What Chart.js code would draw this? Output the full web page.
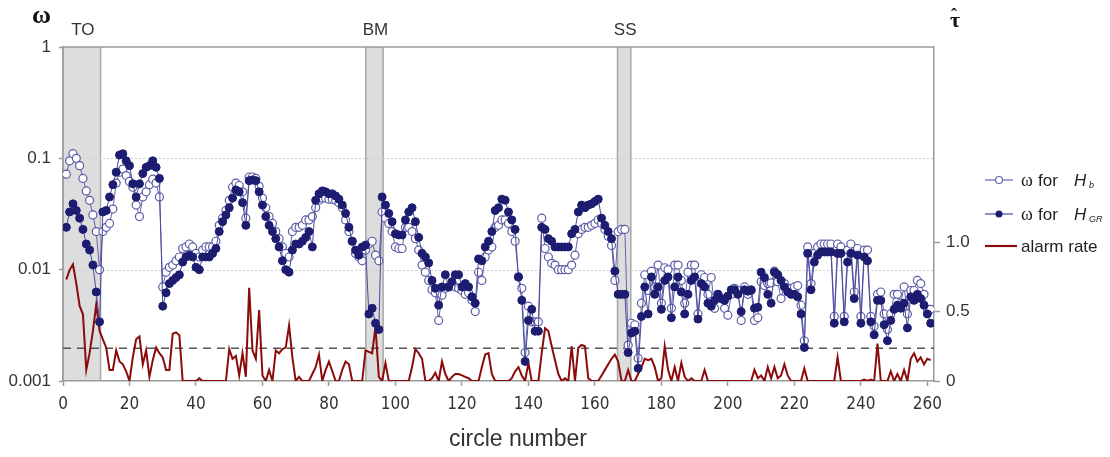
<!DOCTYPE html>
<html><head><meta charset="utf-8">
<script src="https://cdn.jsdelivr.net/npm/chart.js@4.4.1/dist/chart.umd.min.js"></script>
<style>
html,body{margin:0;padding:0;background:#fff;}
canvas{display:block;}
</style></head><body>
<canvas id="c" width="1110" height="457"></canvas>
<script>
// ω for H_b (open circles)
const omegaHb = [
0.072,0.095,0.11,0.10,0.086,0.066,0.051,0.042,0.031,0.022,
0.010,0.022,0.024,0.026,0.035,0.06,0.075,0.08,0.07,0.062,
0.055,0.038,0.03,0.045,0.05,0.058,0.065,0.06,0.045,0.007,
0.0095,0.0105,0.011,0.012,0.013,0.0155,0.016,0.017,0.016,0.014,
0.013,0.015,0.016,0.016,0.016,0.018,0.025,0.029,0.034,0.042,
0.055,0.06,0.057,0.05,0.029,0.068,0.068,0.066,0.056,0.044,
0.036,0.03,0.026,0.022,0.019,0.016,0.014,0.013,0.022,0.024,
0.024,0.025,0.028,0.028,0.03,0.036,0.042,0.044,0.044,0.043,
0.043,0.042,0.04,0.036,0.028,0.022,0.018,0.014,0.013,0.012,
0.015,0.017,0.018,0.0135,0.012,0.033,0.029,0.026,0.022,0.016,
0.0155,0.0155,0.024,0.024,0.022,0.019,0.015,0.011,0.0095,0.008,
0.0066,0.0062,0.0035,0.0059,0.0068,0.007,0.0072,0.007,0.0068,0.0065,
0.006,0.0062,0.0053,0.0042,0.0095,0.008,0.013,0.015,0.016,0.024,
0.025,0.028,0.028,0.026,0.022,0.018,0.0086,0.0068,0.0018,0.0047,
0.0034,0.0034,0.0034,0.029,0.0155,0.013,0.0114,0.011,0.01,0.01,
0.01,0.01,0.011,0.0135,0.021,0.023,0.024,0.024,0.025,0.026,
0.028,0.026,0.023,0.02,0.0165,0.008,0.022,0.023,0.023,0.0021,
0.0033,0.0032,0.0016,0.005,0.009,0.0065,0.0097,0.007,0.011,0.005,
0.0104,0.01,0.0045,0.011,0.011,0.008,0.005,0.0095,0.011,0.011,
0.004,0.009,0.0085,0.006,0.0085,0.0045,0.006,0.0055,0.0045,0.0039,
0.006,0.0068,0.0065,0.0035,0.007,0.006,0.0065,0.0035,0.0037,0.0078,
0.0072,0.0075,0.0076,0.0097,0.0078,0.0055,0.0075,0.0068,0.0068,0.007,
0.0072,0.0048,0.0023,0.016,0.0075,0.014,0.016,0.017,0.017,0.017,
0.017,0.0038,0.017,0.016,0.0038,0.015,0.017,0.0063,0.0155,0.0038,
0.015,0.015,0.0038,0.0031,0.006,0.0063,0.004,0.0029,0.004,0.006,
0.006,0.005,0.007,0.004,0.0065,0.0065,0.008,0.0075,0.006,0.0044,0.0044];

// ω for H_GR (filled circles)
const omegaHGR = [
0.024,0.033,0.039,0.034,0.029,0.023,0.017,0.015,0.011,0.0063,
0.0034,0.033,0.034,0.045,0.058,0.075,0.107,0.11,0.095,0.086,
0.059,0.045,0.059,0.073,0.083,0.086,0.095,0.083,0.066,0.0047,
0.0062,0.0075,0.008,0.0085,0.009,0.0117,0.013,0.0135,0.013,0.0105,
0.010,0.013,0.013,0.013,0.014,0.0155,0.022,0.027,0.031,0.036,
0.044,0.052,0.05,0.04,0.025,0.063,0.064,0.063,0.05,0.038,
0.03,0.025,0.022,0.019,0.016,0.012,0.01,0.0095,0.015,0.017,
0.017,0.018,0.0195,0.022,0.016,0.042,0.048,0.051,0.05,0.048,
0.048,0.046,0.043,0.038,0.032,0.024,0.018,0.015,0.0135,0.016,
0.0166,0.004,0.0045,0.0033,0.0029,0.045,0.038,0.032,0.027,0.021,
0.0205,0.0205,0.028,0.033,0.036,0.027,0.0195,0.014,0.013,0.0115,
0.008,0.0068,0.0048,0.007,0.009,0.007,0.0078,0.009,0.009,0.007,
0.0075,0.007,0.0057,0.005,0.0125,0.012,0.016,0.018,0.022,0.034,
0.036,0.043,0.042,0.033,0.028,0.023,0.0086,0.0053,0.0015,0.0035,
0.0044,0.0028,0.0028,0.024,0.023,0.019,0.018,0.016,0.016,0.016,
0.016,0.016,0.021,0.023,0.033,0.038,0.036,0.038,0.039,0.041,
0.043,0.029,0.025,0.022,0.019,0.0097,0.006,0.006,0.006,0.0018,
0.0027,0.0028,0.0013,0.0038,0.007,0.004,0.0086,0.006,0.007,0.0044,
0.008,0.0086,0.0037,0.007,0.0086,0.0063,0.004,0.006,0.008,0.0086,
0.0036,0.0075,0.007,0.005,0.0047,0.0053,0.006,0.0055,0.0053,0.0058,
0.0066,0.0066,0.006,0.0042,0.0066,0.0064,0.0066,0.0045,0.0046,0.0095,
0.0085,0.006,0.005,0.0095,0.009,0.008,0.007,0.0063,0.006,0.006,
0.0057,0.004,0.002,0.014,0.0066,0.0117,0.0135,0.0144,0.0144,0.0144,
0.0144,0.0033,0.014,0.014,0.0034,0.0117,0.014,0.0055,0.0135,0.0033,
0.013,0.012,0.0034,0.0026,0.0053,0.0053,0.0032,0.0023,0.0035,0.0044,
0.0048,0.0045,0.005,0.003,0.0057,0.0053,0.006,0.0055,0.0048,0.004,0.0033];

// alarm rate (right axis)
const alarmRate = [
0.73,0.80,0.84,0.70,0.54,0.48,0.08,0.20,0.36,0.55,
0.36,0.30,0.24,0.08,0.08,0.22,0.14,0.12,0.07,0.0,
0.17,0.30,0.32,0.12,0.22,0.03,0.15,0.24,0.20,0.17,
0.08,0.08,0.34,0.35,0.33,0,0,0,0,0,
0.02,0,0,0,0,0,0,0,0,0.23,
0.16,0.18,0.04,0.20,0.03,0.67,0.22,0.16,0.51,0.04,
0,0.08,0,0.22,0.20,0.23,0.24,0.40,0.17,0,
0.03,0,0,0,0.05,0.10,0.19,0,0.08,0.14,
0.07,0,0,0.08,0.14,0.12,0,0,0,0,
0.22,0.21,0.20,0.39,0.03,0,0.13,0,0,0,
0,0,0,0,0.10,0.23,0.20,0.16,0,0,
0.02,0.06,0,0.14,0.05,0,0.03,0.05,0.05,0.04,
0.03,0.02,0,0,0,0.10,0.19,0.20,0.05,0,
0,0,0,0,0.02,0.07,0.10,0.04,0,0.13,
0,0,0,0.20,0.38,0.36,0.25,0.15,0.05,0,
0.02,0,0.25,0,0.24,0.26,0.25,0.02,0,0,
0,0.04,0.08,0.12,0.16,0.19,0.14,0,0,0.08,
0,0,0.05,0.10,0.16,0.15,0.16,0.10,0,0.02,
0.25,0.08,0,0.10,0,0.13,0.03,0,0.02,0,
0,0,0.08,0,0,0,0,0,0,0,
0,0,0,0,0,0,0,0.08,0.02,0.04,
0,0.10,0.02,0.10,0.02,0.04,0.12,0.04,0,0,
0,0,0.09,0,0,0,0,0,0,0,
0,0,0.17,0,0,0,0,0,0,0,
0.01,0,0.01,0,0.27,0,0,0,0.07,0,
0.05,0,0.08,0,0.16,0.20,0.14,0.17,0.12,0.16,0.15];

const circles = Array.from({length: omegaHb.length}, (_, i) => i + 1);

const xTickValues = [0,20,40,60,80,100,120,140,160,180,200,220,240,260];
const yTickValues = [0.001,0.01,0.1,1];
const yTickLabels = ['0.001','0.01','0.1','1'];
const y2TickValues = [0,0.5,1];
const y2TickLabels = ['0','0.5','1.0'];

const regionLabels = ['TO','BM','SS'];
const regionStart = [0, 91.1, 166.8];
const regionEnd = [11.3, 96.3, 170.8];
const alarmThreshold = 0.235;

const AX = '#9a9a9a';
const TXT = '#333';
const SANS = '"Liberation Sans", Arial, sans-serif';
const NARROW = '"Liberation Sans Narrow", "Arial Narrow", "DejaVu Sans Condensed", sans-serif';
const SERIF = '"Liberation Serif", "Times New Roman", serif';

const deco = {
  id: 'deco',
  beforeDraw(chart) {
    const {ctx, chartArea: a, scales: {x, y}} = chart;
    ctx.save();
    for (let i = 0; i < regionLabels.length; i++) {
      const x0 = x.getPixelForValue(regionStart[i]);
      const x1 = x.getPixelForValue(regionEnd[i]);
      ctx.fillStyle = '#dddddd';
      ctx.fillRect(x0, a.top, x1 - x0, a.bottom - a.top);
      ctx.strokeStyle = '#a8a8a8';
      ctx.lineWidth = 1.5;
      ctx.beginPath();
      ctx.moveTo(x0, a.top); ctx.lineTo(x0, a.bottom);
      ctx.moveTo(x1, a.top); ctx.lineTo(x1, a.bottom);
      ctx.stroke();
    }
    // dotted grid lines
    ctx.strokeStyle = '#cfcfcf';
    ctx.lineWidth = 1;
    ctx.setLineDash([2, 2]);
    [0.1, 0.01].forEach(v => {
      const py = Math.round(y.getPixelForValue(v)) + 0.5;
      ctx.beginPath(); ctx.moveTo(a.left, py); ctx.lineTo(a.right, py); ctx.stroke();
    });
    ctx.setLineDash([]);
    // top line at 1
    ctx.strokeStyle = AX;
    ctx.lineWidth = 1.5;
    const pt = y.getPixelForValue(1);
    ctx.beginPath(); ctx.moveTo(a.left, pt); ctx.lineTo(a.right, pt); ctx.stroke();
    ctx.restore();
  },
  beforeDatasetsDraw(chart) {
    const {ctx, chartArea: a, scales: {y2}} = chart;
    ctx.save();
    ctx.strokeStyle = '#555';
    ctx.lineWidth = 1.5;
    ctx.setLineDash([8, 6]);
    const py = y2.getPixelForValue(alarmThreshold);
    ctx.beginPath(); ctx.moveTo(a.left, py); ctx.lineTo(a.right, py); ctx.stroke();
    ctx.restore();
  },
  afterDraw(chart) {
    const {ctx, chartArea: a, scales: {x}} = chart;
    ctx.save();
    ctx.fillStyle = TXT;
    ctx.textBaseline = 'alphabetic';
    // region labels
    ctx.font = '17px ' + SANS;
    ctx.textAlign = 'center';
    for (let i = 0; i < regionLabels.length; i++) {
      const cx = (x.getPixelForValue(regionStart[i]) + x.getPixelForValue(regionEnd[i])) / 2;
      ctx.fillText(regionLabels[i], cx + 1, 35);
    }
    // x title
    ctx.font = '23px ' + SANS;
    ctx.fillText('circle number', 518, 446);
    // axis symbols
    ctx.textAlign = 'left';
    ctx.fillStyle = '#111';
    ctx.font = 'bold 26px ' + SERIF;
    ctx.fillText('ω', 32, 23);
    ctx.font = 'bold 22px ' + SERIF;
    ctx.fillText('τ', 950, 27);
    ctx.font = 'bold 18px ' + SERIF;
    ctx.fillText('ˆ', 951, 21);
    // legend
    const rows = [180, 214, 246];
    ctx.lineWidth = 1.2;
    ctx.strokeStyle = '#6464aa';
    ctx.beginPath(); ctx.moveTo(985, rows[0]); ctx.lineTo(1013, rows[0]); ctx.stroke();
    ctx.beginPath(); ctx.arc(999, rows[0], 3.5, 0, Math.PI * 2);
    ctx.fillStyle = '#fff'; ctx.fill(); ctx.stroke();
    ctx.strokeStyle = '#4a4a9e';
    ctx.beginPath(); ctx.moveTo(985, rows[1]); ctx.lineTo(1013, rows[1]); ctx.stroke();
    ctx.beginPath(); ctx.arc(999, rows[1], 3.5, 0, Math.PI * 2);
    ctx.fillStyle = '#1c1c70'; ctx.fill();
    ctx.strokeStyle = '#8b0a0a'; ctx.lineWidth = 2.2;
    ctx.beginPath(); ctx.moveTo(985, rows[2]); ctx.lineTo(1017, rows[2]); ctx.stroke();

    ctx.fillStyle = '#222';
    [0, 1].forEach(r => {
      const bl = rows[r] + 6;
      ctx.font = '18px ' + SERIF;
      ctx.fillText('ω', 1021, bl);
      ctx.font = '17px ' + SANS;
      ctx.fillText('for', 1038, bl);
      ctx.font = 'italic 17px ' + SANS;
      ctx.fillText('H', 1074, bl);
      ctx.font = 'italic 9px ' + SANS;
      ctx.fillText(r === 0 ? 'b' : 'GR', 1089, bl + 2);
    });
    ctx.font = '17px ' + SANS;
    ctx.fillText('alarm rate', 1021, rows[2] + 6);
    ctx.restore();
  }
};

new Chart(document.getElementById('c'), {
  type: 'line',
  data: {
    datasets: [
      {
        label: 'ω for H_GR',
        data: circles.map((c, i) => ({x: c, y: omegaHGR[i]})),
        yAxisID: 'y',
        order: 1,
        borderColor: '#4a4a9e',
        borderWidth: 1,
        pointRadius: 4,
        pointBackgroundColor: '#1c1c70',
        pointBorderColor: '#1c1c70',
        pointBorderWidth: 1,
        tension: 0
      },
      {
        label: 'ω for H_b',
        data: circles.map((c, i) => ({x: c, y: omegaHb[i]})),
        yAxisID: 'y',
        order: 2,
        borderColor: '#6464aa',
        borderWidth: 1,
        pointRadius: 4,
        pointBackgroundColor: '#ffffff',
        pointBorderColor: '#5c5ca6',
        pointBorderWidth: 1.2,
        tension: 0
      },
      {
        label: 'alarm rate',
        data: circles.map((c, i) => ({x: c, y: alarmRate[i]})),
        yAxisID: 'y2',
        order: 3,
        borderColor: '#8b0a0a',
        borderWidth: 2,
        pointRadius: 0,
        tension: 0
      }
    ]
  },
  options: {
    responsive: false,
    animation: false,
    devicePixelRatio: 1,
    layout: {padding: {top: 47, left: 0, right: 0, bottom: 0}},
    plugins: {legend: {display: false}, tooltip: {enabled: false}},
    scales: {
      x: {
        type: 'linear', min: 0, max: 262,
        afterFit: s => { s.height = 76; },
        afterBuildTicks: s => { s.ticks = xTickValues.map(v => ({value: v})); },
        grid: {drawOnChartArea: false, drawTicks: true, tickLength: 5, tickColor: AX, tickWidth: 1.5},
        border: {display: true, color: AX, width: 1.5},
        ticks: {color: TXT, font: {family: NARROW, size: 17}, padding: 8, maxRotation: 0, autoSkip: false}
      },
      y: {
        type: 'logarithmic', position: 'left', min: 0.001, max: 1,
        afterFit: s => { s.width = 63; },
        afterBuildTicks: s => { s.ticks = yTickValues.map(v => ({value: v})); },
        grid: {drawOnChartArea: false, drawTicks: true, tickLength: 4, tickColor: AX, tickWidth: 1.5},
        border: {display: true, color: AX, width: 1.5},
        ticks: {color: TXT, font: {family: SANS, size: 17}, padding: 8,
          callback: v => { const k = yTickValues.indexOf(v); return k >= 0 ? yTickLabels[k] : ''; }}
      },
      y2: {
        type: 'linear', position: 'right', min: 0, max: 2.403,
        afterFit: s => { s.width = 176; },
        afterBuildTicks: s => { s.ticks = y2TickValues.map(v => ({value: v})); },
        grid: {drawOnChartArea: false, drawTicks: true, tickLength: 6, tickColor: AX, tickWidth: 1.5},
        border: {display: true, color: AX, width: 1.5},
        ticks: {color: TXT, font: {family: SANS, size: 17}, padding: 6,
          callback: v => { const k = y2TickValues.indexOf(v); return k >= 0 ? y2TickLabels[k] : ''; }}
      }
    }
  },
  plugins: [deco]
});
</script>
</body></html>
